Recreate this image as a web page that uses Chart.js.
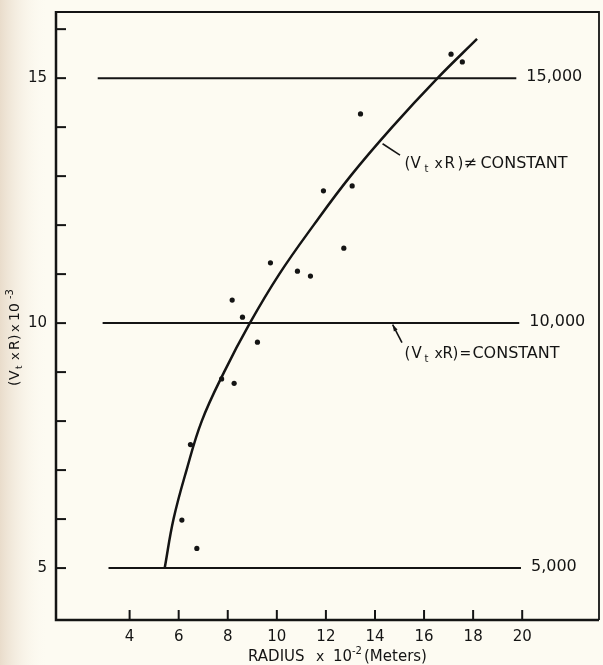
<!DOCTYPE html>
<html>
<head>
<meta charset="utf-8">
<script src="https://cdn.jsdelivr.net/npm/chart.js@4.4.1/dist/chart.umd.min.js"></script>
<style>
  html, body { margin: 0; padding: 0; background: #fdfbf2; }
</style>
</head>
<body>
<canvas id="chart" width="603" height="665"></canvas>
<script>
// measured points: radius (x 10^-2 m) and Vt x R (x 10^-3)
const radius = [6.13, 6.48, 6.74, 7.75, 8.18, 8.26, 8.60, 9.21, 9.74, 10.84, 11.37, 11.90, 12.73, 13.07, 13.41, 17.10, 17.56];
const vtr = [5.98, 7.52, 5.40, 8.86, 10.47, 8.77, 10.12, 9.61, 11.23, 11.06, 10.96, 12.70, 11.53, 12.80, 14.27, 15.49, 15.33];

// hand-drawn fit curve, read along its length
const fitRadius = [5.43, 5.79, 6.32, 6.94, 7.85, 8.9, 10.1, 11.5, 13.0, 14.7, 16.55, 18.16];
const fitVtr = [5.0, 6.0, 7.0, 8.0, 9.0, 10.0, 11.0, 12.0, 13.0, 14.0, 15.0, 15.8];

// constant reference lines
const refLevels = [5, 10, 15];
const refStart = [3.14, 2.90, 2.70];
const refEnd = [19.95, 19.88, 19.76];
const refLabels = ['5,000', '10,000', '15,000'];

const xTicks = [4, 6, 8, 10, 12, 14, 16, 18, 20];
const yTicks = [5, 6, 7, 8, 9, 10, 11, 12, 13, 14, 15, 16];
const yLabels = [5, 10, 15];

const INK = '#141414';
const FONT = '"DejaVu Sans", "Liberation Sans", sans-serif';

function drawParts(ctx, parts, x, y) {
  parts.forEach(p => {
    ctx.font = p.size + 'px ' + FONT;
    ctx.fillText(p.text, x + p.dx, y + (p.dy || 0));
  });
}

const paper = {
  id: 'paper',
  beforeDraw(chart) {
    const ctx = chart.ctx;
    ctx.save();
    ctx.fillStyle = '#fdfbf2';
    ctx.fillRect(0, 0, chart.width, chart.height);
    const g = ctx.createLinearGradient(0, 0, 48, 0);
    g.addColorStop(0, '#e9dccb');
    g.addColorStop(1, 'rgba(253,251,242,0)');
    ctx.fillStyle = g;
    ctx.fillRect(0, 0, 48, chart.height);
    ctx.restore();
  }
};

const frame = {
  id: 'frame',
  afterDatasetsDraw(chart) {
    const ctx = chart.ctx;
    const a = chart.chartArea;
    const xs = chart.scales.x, ys = chart.scales.y;
    ctx.save();
    ctx.strokeStyle = INK;
    ctx.fillStyle = INK;
    ctx.lineCap = 'butt';

    // top and right border
    ctx.lineWidth = 1.8;
    ctx.beginPath();
    ctx.moveTo(a.left, a.top);
    ctx.lineTo(a.right, a.top);
    ctx.lineTo(a.right, a.bottom);
    ctx.stroke();

    // main axes
    ctx.lineWidth = 2.5;
    ctx.beginPath();
    ctx.moveTo(a.left, a.top - 1);
    ctx.lineTo(a.left, a.bottom);
    ctx.lineTo(a.right, a.bottom);
    ctx.stroke();

    // inward ticks
    ctx.lineWidth = 2;
    yTicks.forEach(v => {
      const py = ys.getPixelForValue(v);
      ctx.beginPath();
      ctx.moveTo(a.left, py);
      ctx.lineTo(a.left + 10, py);
      ctx.stroke();
    });
    xTicks.forEach(v => {
      const px = xs.getPixelForValue(v);
      ctx.beginPath();
      ctx.moveTo(px, a.bottom);
      ctx.lineTo(px, a.bottom - 10);
      ctx.stroke();
    });

    // reference line labels
    ctx.font = '16px ' + FONT;
    ctx.textBaseline = 'middle';
    ctx.textAlign = 'left';
    refLevels.forEach((lv, i) => {
      ctx.fillText(refLabels[i], xs.getPixelForValue(refEnd[i]) + 10, ys.getPixelForValue(lv) - 1);
    });

    // annotations
    ctx.textBaseline = 'alphabetic';
    const ax = xs.getPixelForValue(15.2);
    drawParts(ctx, [
      { text: '(', size: 15, dx: 0 },
      { text: 'V', size: 15, dx: 6 },
      { text: 't', size: 10, dx: 20, dy: 4 },
      { text: 'x', size: 14, dx: 30 },
      { text: 'R', size: 15, dx: 40 },
      { text: ')', size: 15, dx: 53 },
      { text: '\u2260', size: 16, dx: 59 },
      { text: 'CONSTANT', size: 16, dx: 76 }
    ], ax, ys.getPixelForValue(13.16));
    drawParts(ctx, [
      { text: '(', size: 15, dx: 0 },
      { text: 'V', size: 15, dx: 7 },
      { text: 't', size: 10, dx: 20, dy: 4 },
      { text: 'x', size: 14, dx: 30 },
      { text: 'R', size: 15, dx: 38 },
      { text: ')', size: 15, dx: 48 },
      { text: '=', size: 14, dx: 55 },
      { text: 'CONSTANT', size: 16, dx: 68 }
    ], ax, ys.getPixelForValue(9.29));

    // pointer lines
    ctx.lineWidth = 1.6;
    ctx.beginPath();
    ctx.moveTo(xs.getPixelForValue(14.31), ys.getPixelForValue(13.66));
    ctx.lineTo(xs.getPixelForValue(15.02), ys.getPixelForValue(13.43));
    ctx.stroke();
    const x0 = xs.getPixelForValue(15.10), y0 = ys.getPixelForValue(9.60);
    const x1 = xs.getPixelForValue(14.72), y1 = ys.getPixelForValue(9.97);
    ctx.beginPath();
    ctx.moveTo(x0, y0);
    ctx.lineTo(x1, y1);
    ctx.stroke();
    const ang = Math.atan2(y1 - y0, x1 - x0);
    ctx.beginPath();
    ctx.moveTo(x1, y1);
    ctx.lineTo(x1 - 7 * Math.cos(ang - 0.3), y1 - 7 * Math.sin(ang - 0.3));
    ctx.lineTo(x1 - 7 * Math.cos(ang + 0.3), y1 - 7 * Math.sin(ang + 0.3));
    ctx.closePath();
    ctx.fill();

    // axis titles
    drawParts(ctx, [
      { text: 'RADIUS', size: 15, dx: 0 },
      { text: 'x', size: 14, dx: 68 },
      { text: '10', size: 15, dx: 85 },
      { text: '-2', size: 10, dx: 104, dy: -7 },
      { text: '(Meters)', size: 15, dx: 116 }
    ], a.left + 192, 661);

    ctx.translate(19, 386);
    ctx.rotate(-Math.PI / 2);
    drawParts(ctx, [
      { text: '(', size: 14, dx: 0 },
      { text: 'V', size: 14, dx: 6 },
      { text: 't', size: 9, dx: 17, dy: 3 },
      { text: 'x', size: 13, dx: 26 },
      { text: 'R', size: 14, dx: 36 },
      { text: ')', size: 14, dx: 46 },
      { text: 'x', size: 13, dx: 54 },
      { text: '10', size: 14, dx: 65 },
      { text: '-3', size: 10, dx: 87, dy: -6 }
    ], 0, 0);
    ctx.restore();
  }
};

const refSets = refLevels.map((lv, i) => ({
  type: 'line',
  data: [{ x: refStart[i], y: lv }, { x: refEnd[i], y: lv }],
  borderColor: INK,
  borderWidth: 2,
  pointRadius: 0
}));

new Chart(document.getElementById('chart'), {
  type: 'scatter',
  data: {
    datasets: [
      ...refSets,
      {
        type: 'line',
        data: fitRadius.map((r, i) => ({ x: r, y: fitVtr[i] })),
        borderColor: INK,
        borderWidth: 2.5,
        pointRadius: 0,
        tension: 0.4
      },
      {
        data: radius.map((r, i) => ({ x: r, y: vtr[i] })),
        backgroundColor: INK,
        borderWidth: 0,
        pointRadius: 2.6
      }
    ]
  },
  options: {
    responsive: false,
    animation: false,
    layout: { padding: { left: 0, top: 12, right: 3, bottom: 0 } },
    plugins: { legend: { display: false }, tooltip: { enabled: false } },
    scales: {
      x: {
        type: 'linear',
        min: 1.0,
        max: 23.13,
        grid: { display: false, drawTicks: false },
        border: { display: false },
        ticks: {
          padding: 8,
          color: INK,
          font: { family: FONT, size: 15 },
          callback: v => xTicks.includes(v) ? String(v) : ''
        },
        afterBuildTicks: s => { s.ticks = xTicks.map(v => ({ value: v })); },
        afterFit: s => { s.height = 45; s.paddingLeft = 0; s.paddingRight = 0; }
      },
      y: {
        type: 'linear',
        min: 3.94,
        max: 16.35,
        grid: { display: false, drawTicks: false },
        border: { display: false },
        ticks: {
          padding: 9,
          color: INK,
          font: { family: FONT, size: 15 },
          callback: v => yLabels.includes(v) ? String(v) : ''
        },
        afterBuildTicks: s => { s.ticks = yTicks.map(v => ({ value: v })); },
        afterFit: s => { s.width = 56; s.paddingTop = 0; s.paddingBottom = 0; }
      }
    }
  },
  plugins: [paper, frame]
});
</script>
</body>
</html>
